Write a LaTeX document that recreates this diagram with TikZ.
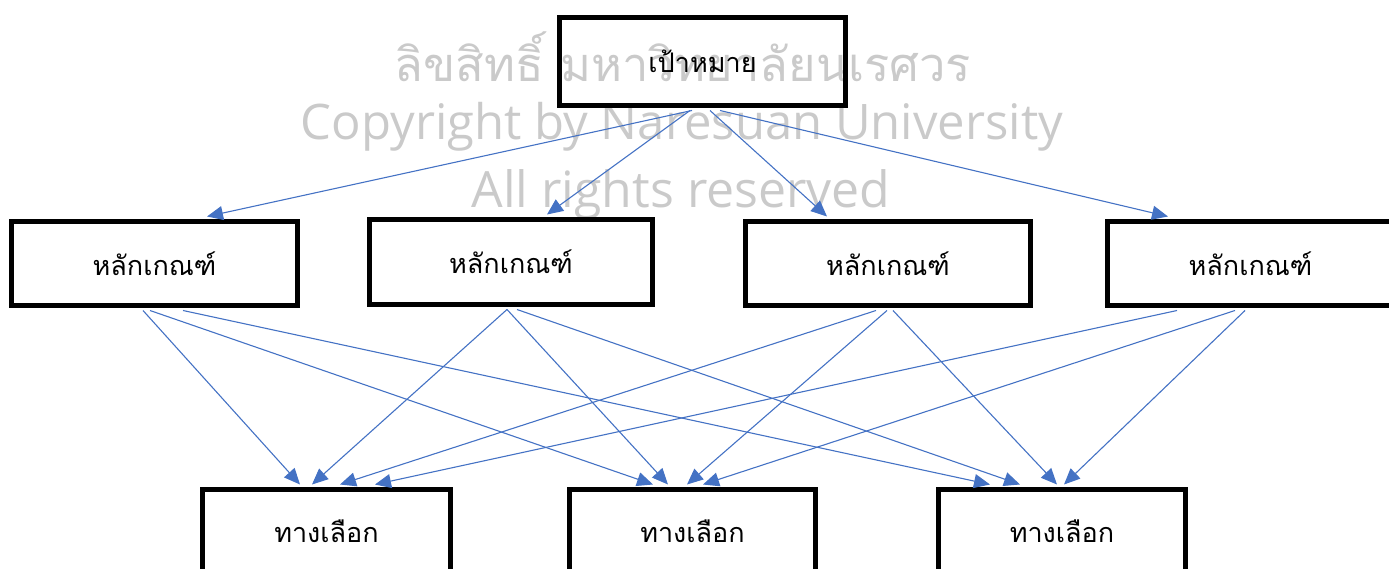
\documentclass[tikz,border=0pt]{standalone}
\usepackage{fontspec}
\setmainfont{Liberation Sans}
\newfontfamily\thaifont[Script=Thai]{Loma}
\newfontfamily\wmfont{Open Sans}
\usetikzlibrary{arrows.meta}
\definecolor{arrowblue}{HTML}{4472C4}
\definecolor{wmgray}{HTML}{CACACA}
\begin{document}
\begin{tikzpicture}[x=1pt,y=-1pt,
  box/.style={draw=black,line width=5pt,rectangle,inner sep=0pt,minimum height=84pt,
    font=\thaifont\fontsize{27}{32}\selectfont,text=black},
  arr/.style={draw=arrowblue,line width=1.1pt,-{Triangle[length=16pt,width=14pt]}},
  wm/.style={text=wmgray,inner sep=0pt}]
\useasboundingbox (0,0) rectangle (1389,569);
\clip (0,0) rectangle (1389,569);
% watermark
\node[wm,font=\thaifont\fontsize{47}{52}\selectfont] (wm1) at (683,57) {ลิขสิทธิ์ มหาวิทยาลัยนเรศวร};
\node[wm,font=\wmfont\fontsize{49}{54}\selectfont] (wm2) at (682,127) {Copyright by Naresuan University};
\node[wm,font=\wmfont\fontsize{50}{55}\selectfont] (wm3) at (681,195) {All rights reserved};
% boxes
\node[box,minimum width=286pt,minimum height=88pt] (t) at (702.5,61.5) {เป้าหมาย};
\node[box,minimum width=286pt] (c1) at (154.5,263.5) {หลักเกณฑ์};
\node[box,minimum width=283pt,minimum height=85pt] (c2) at (511,262) {หลักเกณฑ์};
\node[box,minimum width=285pt] (c3) at (888,263.5) {หลักเกณฑ์};
\node[box,minimum width=286pt] (c4) at (1250.5,263.5) {หลักเกณฑ์};
\node[box,minimum width=248pt] (a1) at (326.5,531.5) {ทางเลือก};
\node[box,minimum width=246pt] (a2) at (692.5,531.5) {ทางเลือก};
\node[box,minimum width=247pt] (a3) at (1062,531.5) {ทางเลือก};
% goal -> criteria
\draw[arr] ([xshift=-10.5pt,yshift=-2.5pt]t.south) -- ([xshift=52.5pt,yshift=2.5pt]c1.north);
\draw[arr] ([xshift=-12.5pt,yshift=-2.5pt]t.south) -- ([xshift=36pt,yshift=2.5pt]c2.north);
\draw[arr] ([xshift=7.5pt,yshift=-2.5pt]t.south) -- ([xshift=-61pt,yshift=2.5pt]c3.north);
\draw[arr] ([xshift=17.5pt,yshift=-2.5pt]t.south) -- ([xshift=-82.5pt,yshift=2.5pt]c4.north);
% criterion 1
\draw[arr] ([xshift=-11.5pt,yshift=-2.5pt]c1.south) -- ([xshift=-26.5pt,yshift=2.5pt]a1.north);
\draw[arr] ([xshift=-4.5pt,yshift=-2.5pt]c1.south) -- ([xshift=-39.5pt,yshift=2.5pt]a2.north);
\draw[arr] ([xshift=28.5pt,yshift=-2.5pt]c1.south) -- ([xshift=-72pt,yshift=2.5pt]a3.north);
% criterion 2
\draw[arr] ([xshift=-4pt,yshift=-2.5pt]c2.south) -- ([xshift=-14.5pt,yshift=2.5pt]a1.north);
\draw[arr] ([xshift=-4pt,yshift=-2.5pt]c2.south) -- ([xshift=-24.5pt,yshift=2.5pt]a2.north);
\draw[arr] ([xshift=6pt,yshift=-2.5pt]c2.south) -- ([xshift=-42pt,yshift=2.5pt]a3.north);
% criterion 3
\draw[arr] ([xshift=-12pt,yshift=-2.5pt]c3.south) -- ([xshift=13.5pt,yshift=2.5pt]a1.north);
\draw[arr] ([xshift=-1pt,yshift=-2.5pt]c3.south) -- ([xshift=-5.5pt,yshift=2.5pt]a2.north);
\draw[arr] ([xshift=5pt,yshift=-2.5pt]c3.south) -- ([xshift=-5pt,yshift=2.5pt]a3.north);
% criterion 4
\draw[arr] ([xshift=-73.5pt,yshift=-2.5pt]c4.south) -- ([xshift=48.5pt,yshift=2.5pt]a1.north);
\draw[arr] ([xshift=-15.5pt,yshift=-2.5pt]c4.south) -- ([xshift=10.5pt,yshift=2.5pt]a2.north);
\draw[arr] ([xshift=-5.5pt,yshift=-2.5pt]c4.south) -- ([xshift=2pt,yshift=2.5pt]a3.north);
\end{tikzpicture}
\end{document}
